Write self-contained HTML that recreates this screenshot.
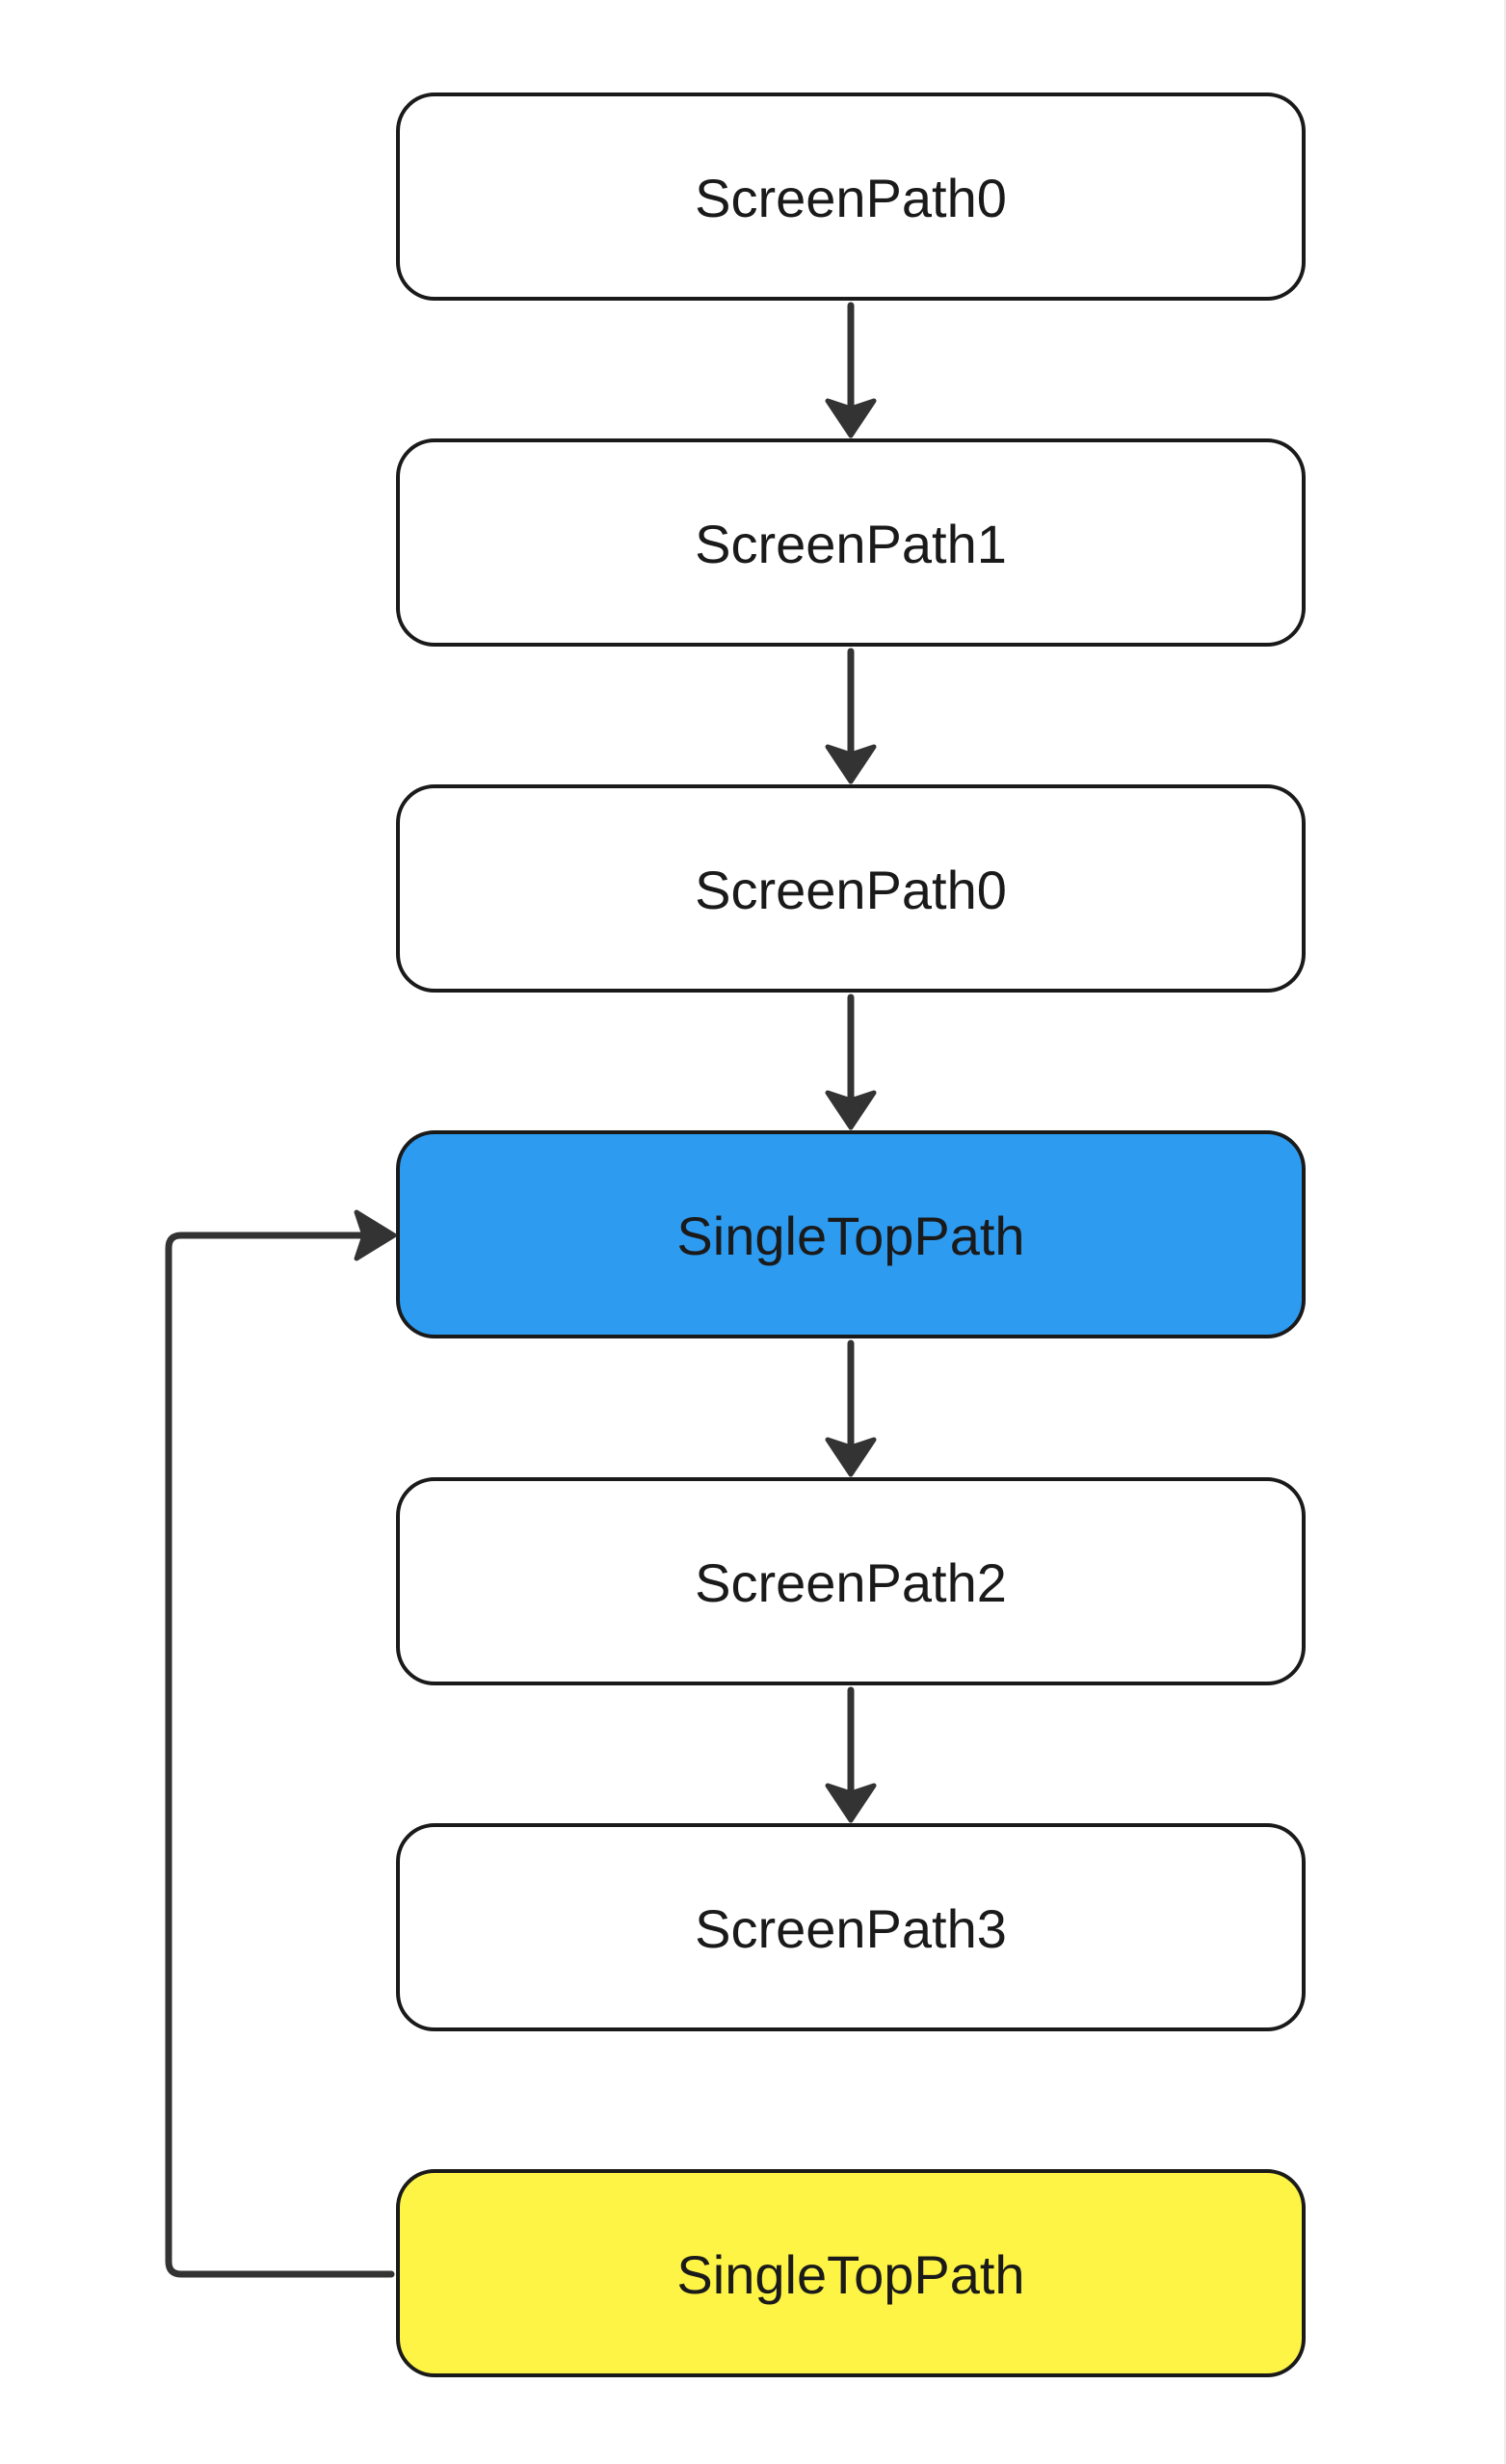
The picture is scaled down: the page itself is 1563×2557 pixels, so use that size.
<!DOCTYPE html>
<html><head><meta charset="utf-8"><style>
html,body{margin:0;padding:0;background:#fff;}
svg{display:block;}
text{font-family:"Liberation Sans",sans-serif;font-size:56px;fill:#1a1a1a;text-anchor:middle;}
</style></head><body>
<svg width="1563" height="2557" viewBox="0 0 1563 2557" xmlns="http://www.w3.org/2000/svg">
<rect x="0" y="0" width="1563" height="2557" fill="#fff"/>
<line x1="1562" y1="0" x2="1562" y2="2557" stroke="#eee" stroke-width="2"/>
<g stroke="#1a1a1a" stroke-width="4">
<rect x="413" y="98" width="940" height="212" rx="38" fill="#fff"/>
<rect x="413" y="457" width="940" height="212" rx="38" fill="#fff"/>
<rect x="413" y="816" width="940" height="212" rx="38" fill="#fff"/>
<rect x="413" y="1175" width="940" height="212" rx="38" fill="#2d9bf0"/>
<rect x="413" y="1535" width="940" height="212" rx="38" fill="#fff"/>
<rect x="413" y="1894" width="940" height="212" rx="38" fill="#fff"/>
<rect x="413" y="2253" width="940" height="212" rx="38" fill="#fef445"/>
</g>
<g>
<text x="883" y="225">ScreenPath0</text>
<text x="883" y="584">ScreenPath1</text>
<text x="883" y="943">ScreenPath0</text>
<text x="883" y="1302">SingleTopPath</text>
<text x="883" y="1662">ScreenPath2</text>
<text x="883" y="2021">ScreenPath3</text>
<text x="883" y="2380">SingleTopPath</text>
</g>
<g stroke="#333" stroke-width="7" fill="none" stroke-linecap="round" stroke-linejoin="round">
<line x1="883" y1="317" x2="883" y2="430"/>
<line x1="883" y1="676" x2="883" y2="789"/>
<line x1="883" y1="1035" x2="883" y2="1148"/>
<line x1="883" y1="1394" x2="883" y2="1508"/>
<line x1="883" y1="1754" x2="883" y2="1867"/>
<path d="M406 2360 H188 Q175 2360 175 2347 V1295 Q175 1282 188 1282 H390"/>
</g>
<g fill="#333" stroke="#333" stroke-width="5" stroke-linejoin="round">
<path d="M859 416 L883 452 L907 416 L883 424 Z"/>
<path d="M859 775 L883 811 L907 775 L883 783 Z"/>
<path d="M859 1134 L883 1170 L907 1134 L883 1142 Z"/>
<path d="M859 1494 L883 1530 L907 1494 L883 1502 Z"/>
<path d="M859 1853 L883 1889 L907 1853 L883 1861 Z"/>
<path d="M370 1258 L409 1282 L370 1306 L378 1282 Z"/>
</g>
</svg>
</body></html>
